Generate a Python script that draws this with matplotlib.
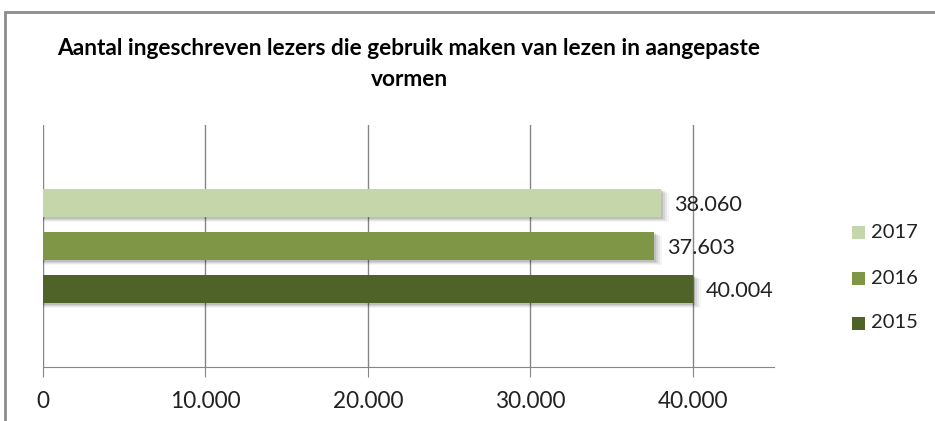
import matplotlib
matplotlib.use("Agg")
import matplotlib.pyplot as plt
from matplotlib.patches import Rectangle
from matplotlib.ticker import FuncFormatter

title = "Aantal ingeschreven lezers die gebruik maken van lezen in aangepaste\nvormen"
years = ["2017", "2016", "2015"]
values = [38060, 37603, 40004]
colors = ["#C4D6AA", "#7E9645", "#4F6228"]
xticks = [0, 10000, 20000, 30000, 40000]

FONT = "Lato"
fig = plt.figure(figsize=(9.35, 4.21), dpi=100)
fig.patch.set_facecolor("white")

# chart frame
fig.add_artist(Rectangle((5 / 935, -0.05), 1.0, (421 - 12) / 421 + 0.05,
                         transform=fig.transFigure, fill=False,
                         edgecolor="#8C8C8C", lw=2.0))

ax = fig.add_axes([43 / 935, (421 - 367) / 421, (774 - 43) / 935, (367 - 125) / 421])
ax.set_xlim(0, 45000)
ax.set_ylim(-2.81, 2.81)

ypos = [1, 0, -1]
h = 0.67
for y, v, c in zip(ypos, values, colors):
    # soft shadow
    for k, a in enumerate([0.10, 0.08, 0.06, 0.04]):
        off = 0.035 + 0.025 * k
        ax.barh(y - off, v + 120 * (k + 1), height=h, left=0, color="black",
                alpha=a, zorder=2, lw=0)
    ax.barh(y, v, height=h, color=c, zorder=3, lw=0)
    ax.text(v + 800, y - 0.05, f"{v:,}".replace(",", "."), va="center", ha="left",
            fontsize=15.6, family=FONT, color="#222222", zorder=4)

ax.set_xticks(xticks)
ax.xaxis.set_major_formatter(FuncFormatter(lambda x, p: f"{int(x):,}".replace(",", ".")))
ax.set_yticks([])
ax.grid(axis="x", color="#868686", lw=1, zorder=1)
for s in ["top", "right", "left"]:
    ax.spines[s].set_visible(False)
ax.spines["bottom"].set_color("#868686")
ax.tick_params(axis="x", length=7, color="#868686", pad=10, labelsize=16.3)
for lbl in ax.get_xticklabels():
    lbl.set_family(FONT)
    lbl.set_color("#222222")

fig.text(409 / 935, 1 - 64 / 421, title, ha="center", va="center", fontsize=16.3,
         fontweight="bold", family=FONT, linespacing=1.55, color="black")

# legend
for i, (yr, c) in enumerate(zip(years, colors)):
    yy = 1 - (233 + 45 * i) / 421
    fig.add_artist(Rectangle((852 / 935, yy - 6.5 / 421), 13 / 935, 13 / 421,
                             transform=fig.transFigure, color=c, lw=0))
    fig.text(871 / 935, yy, yr, ha="left", va="center", fontsize=14.5,
             family=FONT, color="#222222")

fig.savefig("out.png", dpi=100, facecolor="white")
